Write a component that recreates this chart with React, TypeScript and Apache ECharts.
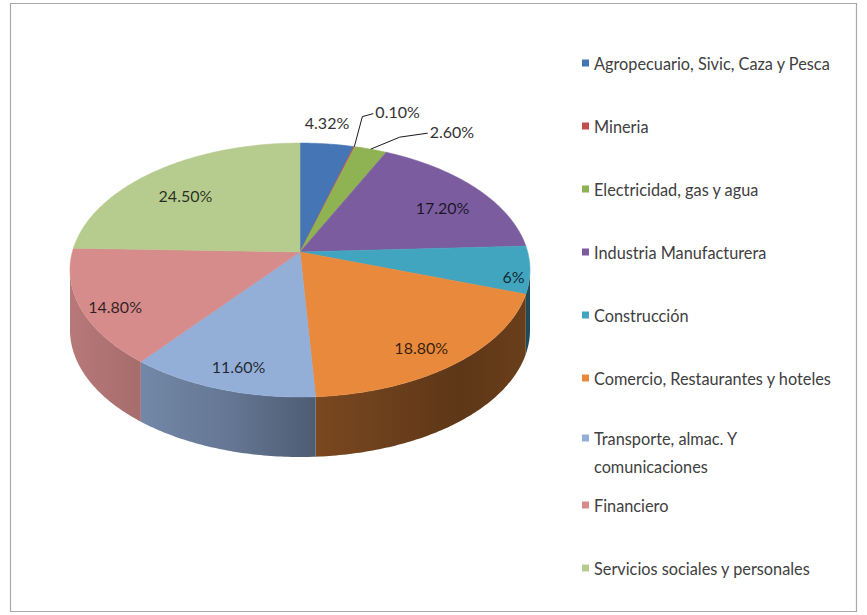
import React, { useEffect, useRef } from 'react';
import * as echarts from 'echarts';

// ---- data ----
const categories = [
  'Agropecuario, Sivic, Caza y Pesca',
  'Mineria',
  'Electricidad, gas y agua',
  'Industria Manufacturera',
  'Construcción',
  'Comercio, Restaurantes y hoteles',
  'Transporte, almac. Y comunicaciones',
  'Financiero',
  'Servicios sociales y personales',
];
const shares = [4.32, 0.1, 2.6, 17.2, 6, 18.8, 11.6, 14.8, 24.5];

// ---- styles ----
const colors = ['#4575B4', '#C0504D', '#8FB353', '#7B5D9F', '#42A5C0', '#E8893B', '#93AED7', '#D58C8B', '#B6CC8E'];
// label placement (radius factor inside the slice, or outside with leader offsets)
const labelPlacement: any[] = [
  { outside: true, dy: -21 },
  { leader: [[8, -30], [19, -33]] },
  { leader: [[29, -12], [57, -16]] },
  { r: 0.8 },
  { r: 0.93 },
  { r: 0.8 },
  { r: 0.8 },
  { r: 0.85 },
  { r: 0.78 },
];

// ---- 3D projection of the pie disc ----
const CX = 300, CY = 270, RX = 230, RY = 127, K = -0.142, DEPTH = 60;
const S = Math.sqrt(1 - K * K);
const V0 = (Math.acos(K) * 180) / Math.PI;
const V1 = 360 - V0;

function project(r: number, deg: number, dz = 0): number[] {
  const t = (deg * Math.PI) / 180;
  const u = r * Math.sin(t);
  const v = -r * Math.cos(t);
  const d = 1 + K * v;
  return [CX + (RX * u * S) / d, CY + (RY * (v + K)) / d + dz];
}
function arc(a: number, b: number, dz = 0): number[][] {
  const n = Math.max(2, Math.ceil(Math.abs(b - a) / 0.75) + 1);
  const pts: number[][] = [];
  for (let j = 0; j < n; j++) pts.push(project(1, a + ((b - a) * j) / (n - 1), dz));
  return pts;
}
function shade(hex: string, f: number): string {
  const n = parseInt(hex.slice(1), 16);
  const r = Math.round(((n >> 16) & 255) * f);
  const g = Math.round(((n >> 8) & 255) * f);
  const b = Math.round((n & 255) * f);
  return `rgb(${r},${g},${b})`;
}
function fmt(v: number): string {
  return Number.isInteger(v) ? `${v}%` : `${v.toFixed(2)}%`;
}

const total = shares.reduce((s, v) => s + v, 0);
const starts: number[] = [];
{
  let acc = 0;
  for (const v of shares) {
    starts.push((acc / total) * 360);
    acc += v;
  }
}

const FONT = 'Lato';
const LABEL_SIZE = 16;

function makeSeries(i: number) {
  return {
    type: 'custom',
    name: categories[i],
    coordinateSystem: 'none',
    silent: true,
    itemStyle: { color: colors[i] },
    data: [[shares[i]]],
    renderItem: (params: any, api: any) => {
      const value = api.value(0);
      const a = starts[i];
      const b = a + (value / total) * 360;
      const children: any[] = [];
      const lo = Math.max(a, V0);
      const hi = Math.min(b, V1);
      if (hi > lo) {
        const pts = [...arc(lo, hi, 0), ...arc(hi, lo, DEPTH)];
        children.push({
          type: 'polygon',
          z2: 1,
          shape: { points: pts },
          style: {
            fill: new echarts.graphic.LinearGradient(
              CX - RX, 0, CX + RX, 0,
              [
                { offset: 0, color: shade(colors[i], 0.86) },
                { offset: 0.35, color: shade(colors[i], 0.68) },
                { offset: 0.55, color: shade(colors[i], 0.52) },
                { offset: 0.85, color: shade(colors[i], 0.4) },
                { offset: 1, color: shade(colors[i], 0.46) },
              ],
              true
            ),
            stroke: null,
          },
        });
      }
      children.push({
        type: 'polygon',
        z2: 5,
        shape: { points: [project(0, 0), ...arc(a, b, 0)] },
        style: { fill: colors[i], stroke: colors[i], lineWidth: 0.5 },
      });
      const mid = (a + b) / 2;
      const lp = labelPlacement[i];
      const text = fmt(value);
      if (lp.leader) {
        const e = project(1, mid);
        const p1 = [e[0] + lp.leader[0][0], e[1] + lp.leader[0][1]];
        const p2 = [e[0] + lp.leader[1][0], e[1] + lp.leader[1][1]];
        children.push({
          type: 'polyline',
          z2: 10,
          shape: { points: [e, p1, p2] },
          style: { stroke: '#1a1a1a', lineWidth: 1, fill: null },
        });
        children.push({
          type: 'text',
          z2: 11,
          x: p2[0] + 2,
          y: p2[1] - 2,
          style: { text, fill: '#333', fontFamily: FONT, fontSize: LABEL_SIZE, align: 'left', verticalAlign: 'middle' },
        });
      } else if (lp.outside) {
        const e = project(1, mid);
        children.push({
          type: 'text',
          z2: 11,
          x: e[0],
          y: e[1] + lp.dy,
          style: { text, fill: '#333', fontFamily: FONT, fontSize: LABEL_SIZE, align: 'center', verticalAlign: 'middle' },
        });
      } else {
        const p = project(lp.r, mid);
        children.push({
          type: 'text',
          z2: 11,
          x: p[0],
          y: p[1] + 8,
          style: { text, fill: 'rgba(0,0,0,0.78)', fontFamily: FONT, fontSize: LABEL_SIZE, align: 'center', verticalAlign: 'middle' },
        });
      }
      return { type: 'group', children };
    },
  };
}

const legendText = { color: '#404040', fontFamily: FONT, fontSize: 16.3, lineHeight: 20 };
const legendBase = {
  orient: 'vertical',
  left: 582,
  padding: 0,
  icon: 'rect',
  itemWidth: 7,
  itemHeight: 7,
  itemGap: 43,
  selectedMode: false,
};

export default function App() {
  const ref = useRef<HTMLDivElement>(null);
  useEffect(() => {
    if (!ref.current) return;
    const chart = echarts.init(ref.current, undefined, { renderer: 'svg' });
    chart.setOption({
      animation: false,
      backgroundColor: '#ffffff',
      legend: [
        { ...legendBase, top: 53, data: categories.slice(0, 6), textStyle: legendText },
        {
          ...legendBase,
          top: 396,
          data: categories.slice(6, 7),
          formatter: (name: string) => '\n' + name,
          textStyle: { ...legendText, lineHeight: 28, width: 190, overflow: 'break' },
        },
        { ...legendBase, top: 495, data: categories.slice(7), textStyle: legendText },
      ],
      graphic: [
        {
          type: 'rect',
          silent: true,
          shape: { x: 10.5, y: 3.5, width: 846, height: 608 },
          style: { fill: 'none', stroke: '#a9a9a9', lineWidth: 1.2 },
        },
      ],
      series: categories.map((_, i) => makeSeries(i)),
    });
    return () => chart.dispose();
  }, []);
  return (
    <div
      ref={ref}
      style={{ position: 'absolute', left: 0, top: 0, width: 867, height: 615, background: '#fff' }}
    />
  );
}
